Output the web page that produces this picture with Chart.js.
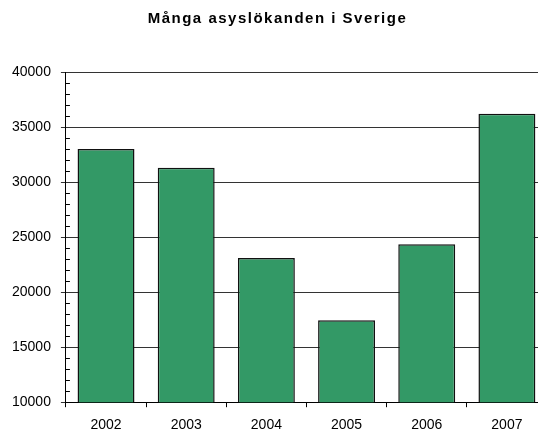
<!DOCTYPE html>
<html>
<head>
<meta charset="utf-8">
<script src="https://cdn.jsdelivr.net/npm/chart.js@4"></script>
<style>
  html, body { margin: 0; padding: 0; overflow: hidden; background: #fff; }
  #wrap { position: relative; width: 555px; height: 429px; overflow: hidden; }
  #title {
    position: absolute; top: 9px; left: 0; width: 555px; text-align: center;
    font: bold 15px "Liberation Sans", Arial, sans-serif; letter-spacing: 1.5px; color: #000;
  }
</style>
</head>
<body>
<div id="wrap">
  <div id="title">Många asyslökanden i Sverige</div>
  <canvas id="chart" width="555" height="432"></canvas>
</div>
<script>
// data
var years = ['2002', '2003', '2004', '2005', '2006', '2007']
var sokande = [33000, 31300, 23100, 17450, 24350, 36200]
var yMin = 10000
var yMax = 40000
var yStep = 5000
var yMinorStep = 1000

// small inward ticks every 1000 on the y axis (Chart.js has no minor ticks)
var minorTicks = {
  id: 'minorTicks',
  afterDraw: function (chart) {
    var y = chart.scales.y
    var ctx = chart.ctx
    ctx.save()
    ctx.strokeStyle = '#000'
    ctx.lineWidth = 1
    for (var v = yMin; v <= yMax; v += yMinorStep) {
      if (v % yStep == 0) continue
      var py = Math.round(y.getPixelForValue(v)) + 0.5
      ctx.beginPath()
      ctx.moveTo(chart.chartArea.left, py)
      ctx.lineTo(chart.chartArea.left + 4, py)
      ctx.stroke()
    }
    ctx.restore()
  }
}

var ctx = document.getElementById('chart')

new Chart(ctx, {
  type: 'bar',
  data: {
    labels: years,
    datasets: [{
      data: sokande,
      backgroundColor: '#339966',
      borderColor: '#111',
      borderWidth: 1.5,
      borderSkipped: false,
      barPercentage: 0.71,
      categoryPercentage: 1
    }]
  },
  options: {
    responsive: false,
    animation: false,
    devicePixelRatio: 1,
    layout: { padding: { top: 72, left: 2, right: 8, bottom: -12 } },
    plugins: {
      legend: { display: false },
      title: { display: false },
      tooltip: { enabled: false }
    },
    scales: {
      x: {
        grid: { drawOnChartArea: false, drawTicks: true, tickLength: 5, color: '#000', offset: true },
        border: { display: true, color: '#000', width: 1 },
        ticks: { color: '#000', padding: 10, font: { family: 'Liberation Sans', size: 14 } }
      },
      y: {
        min: yMin,
        max: yMax,
        grid: { color: '#333', tickLength: 5, drawTicks: true },
        border: { display: true, color: '#000', width: 1 },
        ticks: {
          stepSize: yStep,
          color: '#000',
          padding: 10,
          font: { family: 'Liberation Sans', size: 14 },
          callback: function (v) { return v }
        }
      }
    }
  },
  plugins: [minorTicks]
})
</script>
</body>
</html>
